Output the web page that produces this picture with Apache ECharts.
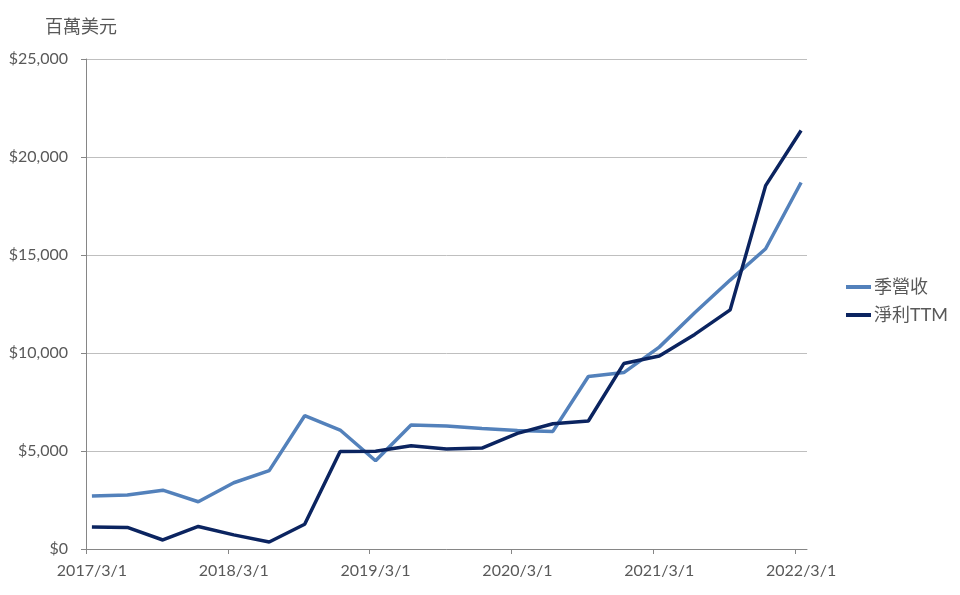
<!DOCTYPE html>
<html>
<head>
<meta charset="utf-8">
<script src="https://cdn.jsdelivr.net/npm/echarts@6/dist/echarts.min.js"></script>
<style>html,body{margin:0;padding:0;background:#fff}#c{width:960px;height:595px}</style>
</head>
<body>
<div id="c"></div>
<script>
// Quarter dates (year/month) for each point
const quarters = ['2017/3','2017/6','2017/9','2017/12','2018/3','2018/6','2018/9','2018/12','2019/3','2019/6','2019/9','2019/12','2020/3','2020/6','2020/9','2020/12','2021/3','2021/6','2021/9','2021/12','2022/3'];
// 季營收 (millions USD)
const revenue = [2700,2760,3000,2410,3380,4000,6800,6070,4500,6330,6280,6150,6050,6000,8800,9000,10300,12050,13720,15320,18700];
// 淨利TTM (millions USD)
const netIncomeTTM = [1120,1100,460,1150,720,360,1260,4970,4990,5270,5100,5150,5900,6390,6530,9460,9850,10950,12200,18540,21350];
// x-axis tick labels
const xTickLabels = ['2017/3/1','2018/3/1','2019/3/1','2020/3/1','2021/3/1','2022/3/1'];
const seriesNames = ['季營收','淨利TTM'];
const unitLabel = '百萬美元';

function monthIndex(s){const [y,m]=s.split('/').map(Number);return (y-2017)*12+(m-3);}
const tickPos = xTickLabels.map(s=>monthIndex(s.split('/').slice(0,2).join('/')));
const labelPos = tickPos.map(v=>v+0.5);

const font = "Lato, 'Noto Sans CJK TC', sans-serif";
const chart = echarts.init(document.getElementById('c'));
chart.setOption({
  animation:false,
  backgroundColor:'#fff',
  title:{text:unitLabel,left:40,top:12,textStyle:{fontSize:18,fontWeight:'normal',color:'#595959',fontFamily:"'Noto Sans CJK TC', sans-serif"}},
  legend:{orient:'vertical',left:841,top:273,itemWidth:25,itemHeight:4,itemGap:10,icon:'rect',
    textStyle:{fontSize:18,color:'#595959',fontFamily:font,padding:[0,0,0,-2]},
    data:seriesNames},
  grid:{left:86,right:153,top:59,bottom:46,containLabel:false,outerBoundsMode:'none'},
  xAxis:{type:'value',min:0,max:61,
    axisLine:{show:true,lineStyle:{color:'#868686',width:1}},
    axisTick:{show:true,length:5,customValues:tickPos,lineStyle:{color:'#868686'}},
    axisLabel:{customValues:labelPos,margin:14,fontSize:16,color:'#595959',fontFamily:font,
      formatter:v=>{const i=labelPos.indexOf(v);return i>=0?xTickLabels[i]:'';}},
    splitLine:{show:false}},
  yAxis:{type:'value',min:0,max:25000,interval:5000,
    axisLine:{show:true,lineStyle:{color:'#868686',width:1}},
    axisTick:{show:true,length:5,lineStyle:{color:'#868686'}},
    axisLabel:{margin:18,fontSize:16,color:'#595959',fontFamily:font,
      formatter:v=>'$'+v.toLocaleString('en-US')},
    splitLine:{show:true,lineStyle:{color:'#bfbfbf',width:1}}},
  series:[
    {name:seriesNames[0],type:'line',symbol:'none',color:'#5381bb',lineStyle:{width:3.5,color:'#5381bb'},
      data:quarters.map((q,i)=>[monthIndex(q)+0.5,revenue[i]])},
    {name:seriesNames[1],type:'line',symbol:'none',color:'#0b2460',lineStyle:{width:3.5,color:'#0b2460'},
      data:quarters.map((q,i)=>[monthIndex(q)+0.5,netIncomeTTM[i]])}
  ]
});
</script>
</body>
</html>
